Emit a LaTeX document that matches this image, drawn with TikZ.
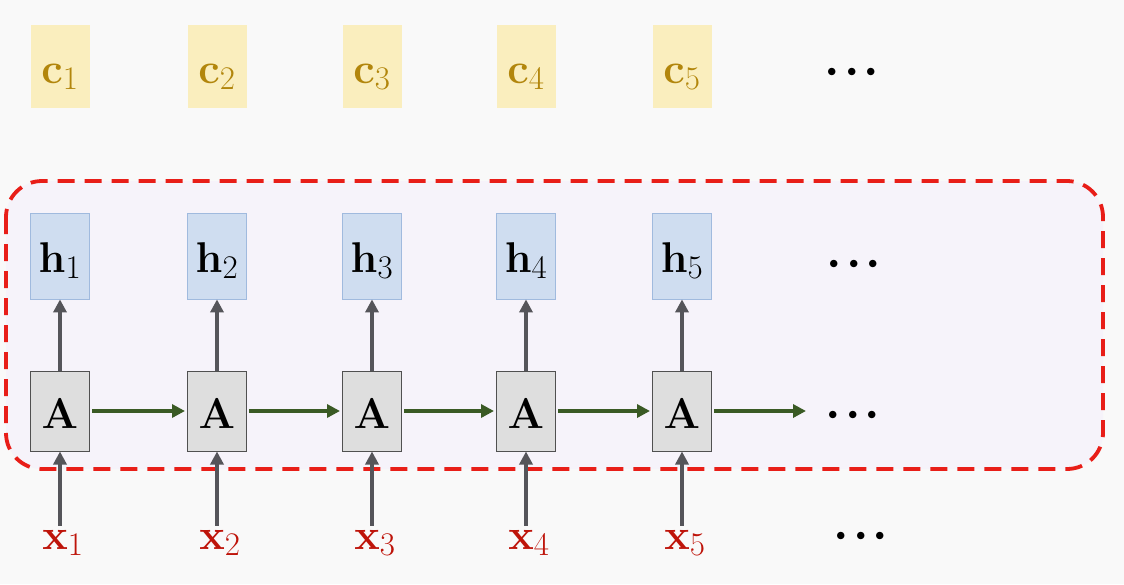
\RequirePackage{fix-cm}
\documentclass[tikz,border=0pt]{standalone}
\usetikzlibrary{arrows.meta}
\DeclareMathSizes{43}{43}{33}{26}
\definecolor{bgc}{RGB}{249,249,249}
\definecolor{cfill}{RGB}{250,238,190}
\definecolor{ctext}{RGB}{178,134,12}
\definecolor{hfill}{RGB}{207,221,240}
\definecolor{hdraw}{RGB}{160,186,222}
\definecolor{afill}{RGB}{222,222,222}
\definecolor{adraw}{RGB}{80,80,80}
\definecolor{xtext}{RGB}{190,20,10}
\definecolor{garrow}{RGB}{58,90,36}
\definecolor{grayarr}{RGB}{85,85,90}
\definecolor{redline}{RGB}{232,30,24}
\definecolor{lav}{RGB}{246,243,250}
\tikzset{
  bigfont/.style={font=\fontsize{43}{43}\selectfont},
  cbox/.style={bigfont,fill=cfill,minimum width=59pt,minimum height=83pt,inner sep=0pt,text=ctext,text height=33pt,text depth=0pt},
  hbox/.style={bigfont,fill=hfill,draw=hdraw,line width=0.8pt,minimum width=59pt,minimum height=86pt,inner sep=0pt,text height=32pt,text depth=0pt},
  abox/.style={bigfont,fill=afill,draw=adraw,line width=1pt,minimum width=59pt,minimum height=80pt,inner sep=0pt,text height=34pt,text depth=0pt},
  xlab/.style={bigfont,text=xtext,inner sep=0pt,anchor=base},
  dotsnode/.style={inner sep=0pt,anchor=base,font=\fontsize{70}{70}\selectfont},
  uparrow/.style={draw=grayarr,line width=4pt,-{Triangle[length=13pt,width=13pt]}},
  rarrow/.style={draw=garrow,line width=3.5pt,-{Triangle[length=13pt,width=13pt]}},
  region/.style={draw=redline,line width=3.8pt,dash pattern=on 17pt off 10pt,rounded corners=36pt,fill=lav}
}
\newcommand{\threedots}{$\mathord{\cdot}\mathord{\cdot}\mathord{\cdot}$}
\begin{document}
\begin{tikzpicture}[x=1pt,y=-1pt]
\fill[bgc] (0,0) rectangle (1124,584);
\useasboundingbox (0,0) rectangle (1124,584);
\draw[region] (6,181) rectangle (1103,469);
\foreach \i/\cx in {1/60,2/217,3/372,4/526,5/682}{
  \node[cbox] (c\i) at (\cx,66.5) {$\mathbf{c}_{\i}$};
  \node[hbox] (h\i) at (\cx,256) {$\mathbf{h}_{\i}$};
  \node[abox] (A\i) at (\cx,411) {$\mathbf{A}$};
  \node[xlab] (x\i) at (\cx+3,549) {$\mathbf{x}_{\i}$};
  \draw[uparrow] ([yshift=4pt]x\i.north -| A\i.south) -- (A\i.south);
  \draw[uparrow] (A\i.north) -- (h\i.south);
}
\foreach \i/\j in {1/2,2/3,3/4,4/5}{
  \draw[rarrow] ([xshift=2pt]A\i.east) -- ([xshift=-2pt]A\j.west);
}
\coordinate (aend) at (806,411);
\draw[rarrow] ([xshift=2pt]A5.east) -- (aend);
\node[dotsnode] (d1) at (852,89.5) {\threedots};
\node[dotsnode] (d2) at (854,281.5) {\threedots};
\node[dotsnode] (d3) at (853,432.5) {\threedots};
\node[dotsnode] (d4) at (861,553) {\threedots};
\end{tikzpicture}
\end{document}
